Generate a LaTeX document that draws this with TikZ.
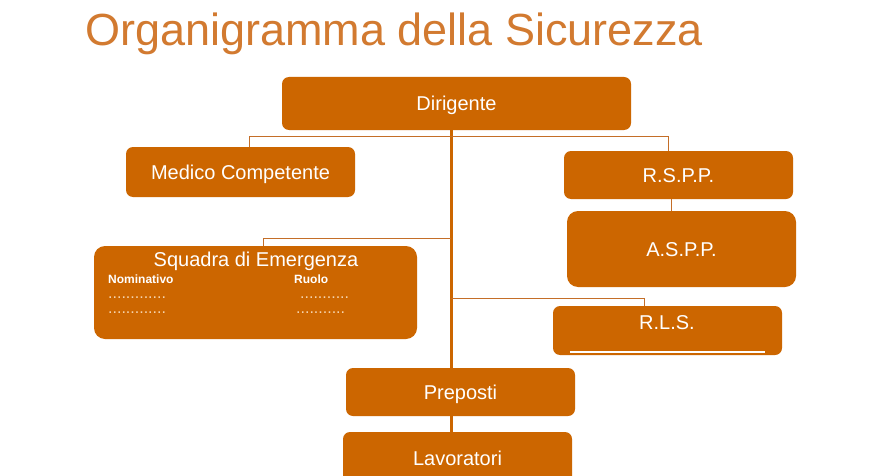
\documentclass[tikz,border=0pt]{standalone}
\usepackage{fontspec}
\setmainfont{Liberation Sans}
\definecolor{org}{RGB}{204,102,0}
\definecolor{ttl}{RGB}{210,122,48}
\definecolor{dotc}{RGB}{245,212,175}
\definecolor{lnk}{RGB}{196,110,40}
\begin{document}
\begin{tikzpicture}[x=1pt,y=-1pt,
  box/.style={fill=org, rounded corners=7pt, inner sep=0pt, text=white, text height=14.3pt, text depth=0pt, font=\fontsize{20}{24}\selectfont},
  bigbox/.style={box, rounded corners=11pt},
  lbl/.style={text=white, inner sep=0pt, text height=14.3pt, text depth=0pt, font=\fontsize{20}{24}\selectfont},
  small/.style={text=white, inner sep=0pt, font=\fontsize{12}{14}\selectfont\bfseries},
  dots/.style={text=dotc, inner sep=0pt, anchor=base west, font=\fontsize{16}{18}\selectfont},
  trunk/.style={draw=org, line width=3pt},
  branch/.style={draw=lnk, line width=1pt}]
\useasboundingbox (0,0) rectangle (896,476);
\fill[white] (0,0) rectangle (896,476);

\node[anchor=base west, text=ttl, inner sep=0pt, font=\fontsize{45}{54}\selectfont] (title) at (85,46) {Organigramma della Sicurezza};

\node[box, minimum width=349pt, minimum height=53pt] (dir) at (456.5,103.5) {Dirigente};
\node[box, minimum width=229pt, minimum height=50pt] (med) at (240.5,172) {Medico Competente};
\node[box, minimum width=229pt, minimum height=48pt] (rspp) at (678.5,175) {R.S.P.P.};
\node[bigbox, minimum width=229pt, minimum height=76pt] (aspp) at (681.5,249) {A.S.P.P.};
\node[bigbox, minimum width=323pt, minimum height=93pt] (sq) at (255.5,292.5) {};
\node[box, minimum width=229pt, minimum height=49pt] (rls) at (667.5,330.5) {};
\node[box, minimum width=229pt, minimum height=48pt] (prep) at (460.5,392) {Preposti};
\node[box, minimum width=229pt, minimum height=58pt] (lav) at (457.5,461) {};
\node[lbl] (lavt) at (457.5,458) {Lavoratori};

\node[lbl] (sqt) at (256,259) {Squadra di Emergenza};
\node[small, anchor=west] (nom) at (108,279) {Nominativo};
\node[small, anchor=west] (ruo) at (294,279) {Ruolo};
\node[dots] (d1) at (108,298) {.............};
\node[dots] (d2) at (300,298) {...........};
\node[dots] (d3) at (108,313) {.............};
\node[dots] (d4) at (296,313) {...........};

\node[lbl] (rlst) at (667,322) {R.L.S.};
\draw[white, line width=1.5pt] ([xshift=17pt,yshift=3pt]rls.south west) -- ([xshift=-17pt,yshift=3pt]rls.south east);

\coordinate (tx) at (451,0);
\coordinate (mx) at (249,136);
\coordinate (rx) at (668,136);
\coordinate (ax) at (671,0);
\coordinate (sx) at (263,238);
\coordinate (lx) at (644,298);

\draw[trunk] (dir.south -| tx) -- (prep.north -| tx);
\draw[trunk] (prep.south -| tx) -- (lav.north -| tx);
\draw[branch] (med.north -| mx) -- (mx) -| (rspp.north -| rx);
\draw[branch] (rspp.south -| ax) -- (aspp.north -| ax);
\draw[branch] (sq.north -| sx) |- (tx |- sx);
\draw[branch] (tx |- lx) -| (rls.north -| lx);
\end{tikzpicture}
\end{document}
